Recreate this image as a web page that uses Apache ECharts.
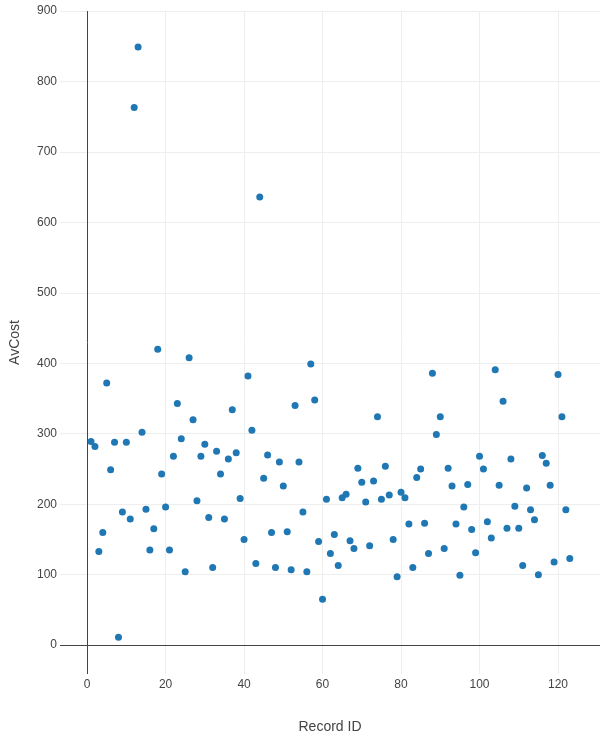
<!DOCTYPE html>
<html><head><meta charset="utf-8">
<script src="https://cdn.jsdelivr.net/npm/echarts@6/dist/echarts.min.js"></script>
<style>html,body{margin:0;padding:0;background:#fff}#c{width:611px;height:739px}</style>
</head><body><div id="c"></div>
<script>
const avCost = [289,282,133,160,372,249,288,11,189,288,179,763,849,302,193,135,165,420,243,196,135,268,343,293,104,408,320,205,268,285,181,110,275,243,179,264,334,273,208,150,382,305,116,636,237,270,160,110,260,226,161,107,340,260,189,104,399,348,147,65,207,130,157,113,209,214,148,137,251,231,203,141,233,324,207,254,213,150,97,217,209,172,110,238,250,173,130,386,299,324,137,251,226,172,99,196,228,164,131,268,250,175,152,391,227,346,166,264,197,166,113,223,192,178,100,269,258,227,118,384,324,192,123];
const recordIds = avCost.map((_, i) => i + 1);
const xTicks = [0,20,40,60,80,100,120];
const yTicks = [0,100,200,300,400,500,600,700,800,900];
const points = recordIds.map((id, i) => [id, avCost[i]]);
const chart = echarts.init(document.getElementById('c'));
const font = 'Liberation Sans, Arial, sans-serif';
const axisText = {color:'#444', fontSize:12, fontFamily:font};
const gridLines = xTicks.filter(v=>v!==0).map(v=>({xAxis:v, lineStyle:{color:'#eee', type:'solid', width:1}}))
  .concat(yTicks.filter(v=>v!==0).map(v=>({yAxis:v, lineStyle:{color:'#eee', type:'solid', width:1}})))
  .concat([{xAxis:0, lineStyle:{color:'#444', type:'solid', width:1}},{yAxis:0, lineStyle:{color:'#444', type:'solid', width:1}}]);
chart.setOption({
  animation:false,
  grid:{left:60, right:11, top:11, bottom:62, containLabel:false},
  xAxis:{type:'value', min:-6.9, max:130.7, name:'Record ID', nameLocation:'middle', nameGap:46,
    nameTextStyle:{color:'#444', fontSize:14, fontFamily:font},
    axisLine:{show:false}, axisTick:{show:false},
    axisLabel:Object.assign({margin:5, customValues:xTicks}, axisText),
    splitLine:{show:false}},
  yAxis:{type:'value', min:-41, max:900, name:'AvCost', nameLocation:'middle', nameGap:38,
    nameTextStyle:{color:'#444', fontSize:14, fontFamily:font},
    axisLine:{show:false}, axisTick:{show:false},
    axisLabel:Object.assign({margin:3, customValues:yTicks}, axisText),
    splitLine:{show:false}},
  series:[{type:'scatter', data:points, symbolSize:7, itemStyle:{color:'#1f77b4', opacity:1},
    markLine:{silent:true, symbol:'none', label:{show:false}, data:gridLines, z:0}}]
});
</script></body></html>
